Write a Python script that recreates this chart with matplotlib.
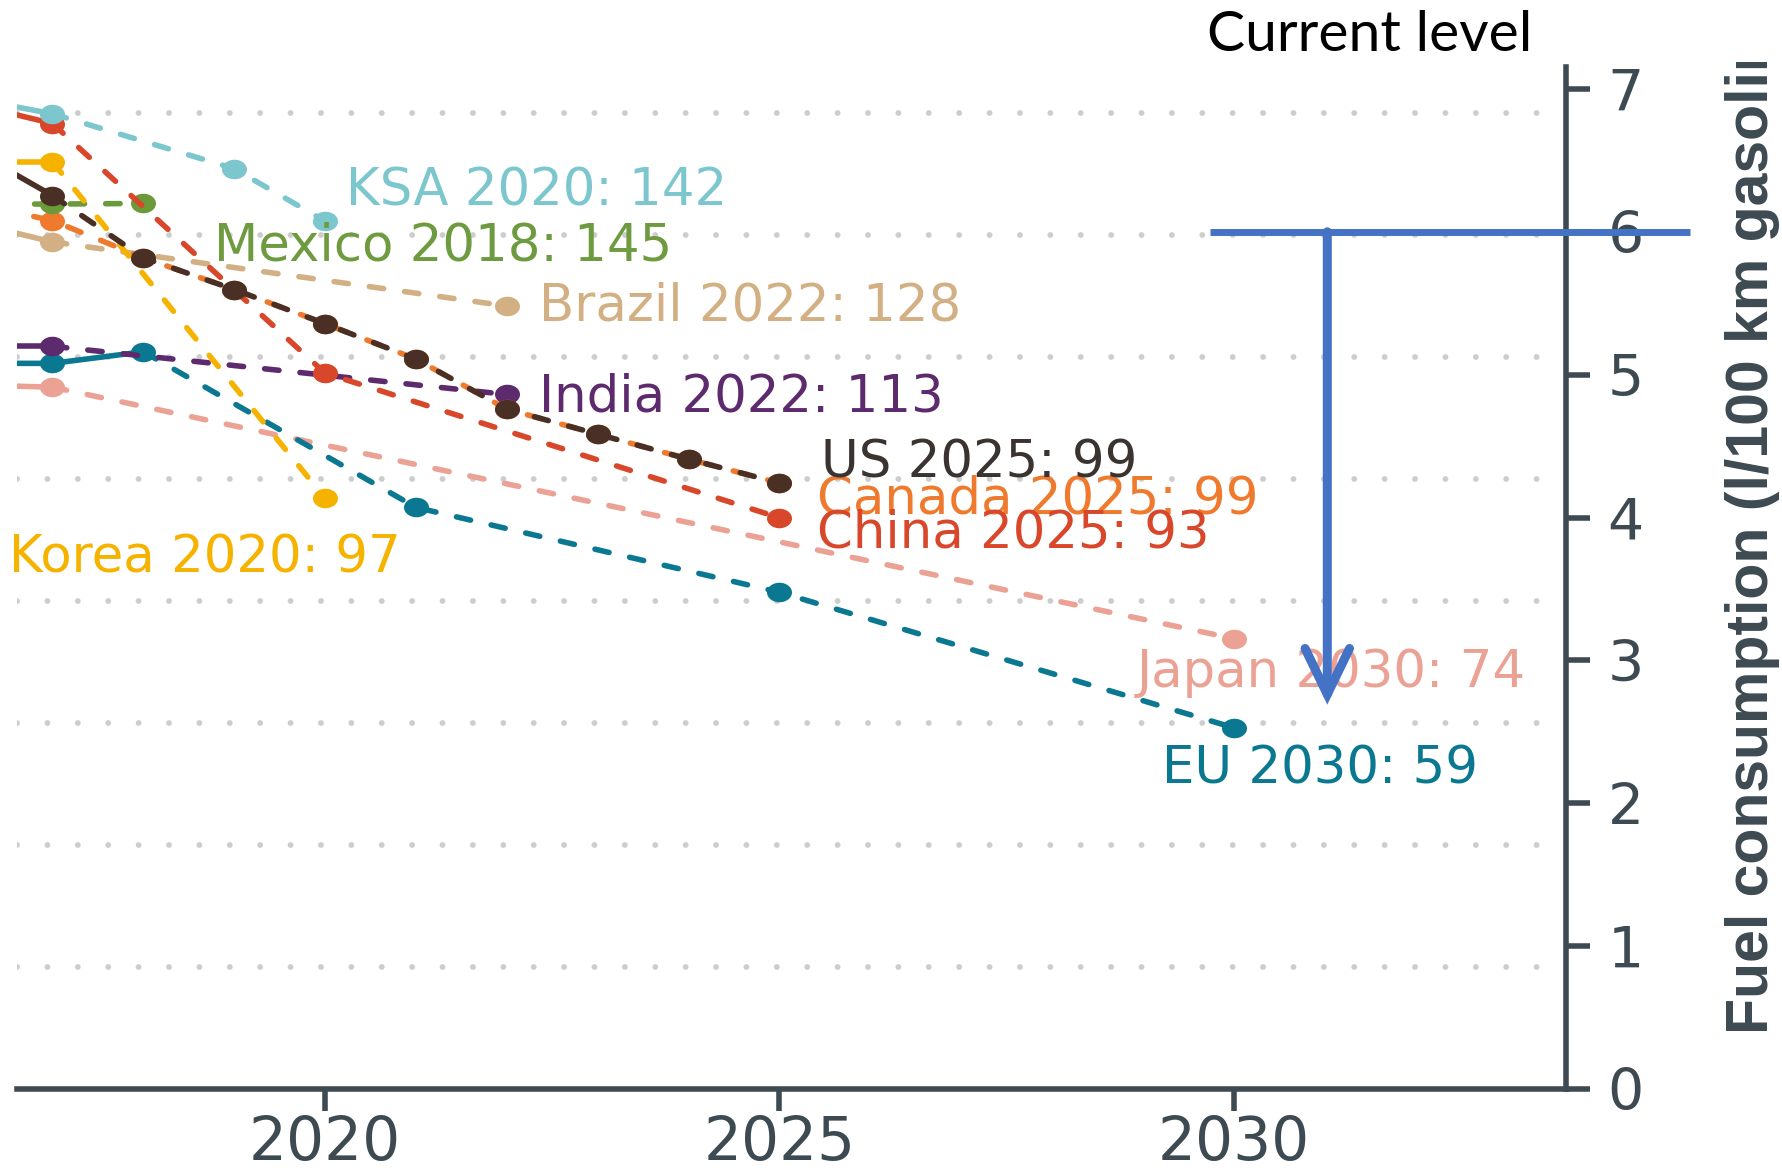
import matplotlib
matplotlib.use("Agg")
import matplotlib.pyplot as plt
from matplotlib.path import Path
from matplotlib.transforms import Affine2D, Bbox, TransformedBbox
from matplotlib import font_manager

# ---------------- data (gCO2/km, NEDC-normalised) ----------------
countries = ["Japan", "EU", "India", "Brazil", "Canada", "Mexico", "Korea", "China", "KSA", "US"]

japan_years = [2016, 2017, 2030]
japan_vals = [115.4, 115.0, 73.8]
eu_years = [2016, 2017, 2018, 2021, 2025, 2030]
eu_vals = [118.9, 118.9, 120.8, 95.3, 81.4, 59.2]
india_years = [2016, 2017, 2022]
india_vals = [121.7, 121.7, 113.8]
brazil_years = [2016, 2017, 2022]
brazil_vals = [142.4, 138.8, 128.3]
canada_years = [2016, 2017, 2018, 2019, 2020, 2021, 2022, 2023, 2024, 2025]
canada_vals = [145.5, 142.3, 136.2, 131.0, 125.4, 119.6, 111.4, 107.3, 103.2, 99.3]
mexico_years = [2016, 2017, 2018]
mexico_vals = [145.0, 145.0, 145.1]
korea_years = [2016, 2017, 2020]
korea_vals = [151.9, 151.9, 96.8]
china_years = [2016, 2017, 2020, 2025]
china_vals = [161.8, 158.2, 117.3, 93.6]
ksa_years = [2016, 2017, 2019, 2020]
ksa_vals = [162.6, 159.8, 150.8, 142.2]
us_years = [2016, 2017, 2018, 2019, 2020, 2021, 2022, 2023, 2024, 2025]
us_vals = [154.9, 146.4, 136.2, 131.0, 125.4, 119.6, 111.4, 107.3, 103.2, 99.3]

# last historical (solid) year per country; None = dashed throughout
hist_end = {"Japan": 2017, "EU": 2018, "India": 2017, "Brazil": 2017, "Canada": None,
            "Mexico": None, "Korea": 2017, "China": 2017, "KSA": 2017, "US": 2017}

label_texts = {
    "KSA": "KSA 2020: 142", "Mexico": "Mexico 2018: 145", "Brazil": "Brazil 2022: 128",
    "India": "India 2022: 113", "US": "US 2025: 99", "Canada": "Canada 2025: 99",
    "China": "China 2025: 93", "Korea": "Korea 2020: 97", "Japan": "Japan 2030: 74",
    "EU": "EU 2030: 59",
}

grid_vals = [20, 40, 60, 80, 100, 120, 140, 160]
x_ticks = [2020, 2025, 2030]
fuel_ticks = [0, 1, 2, 3, 4, 5, 6, 7]
G_PER_L = 23.41          # gCO2/km per l/100 km gasoline
current_level = 6.0      # l/100 km
arrow_target = 2.69      # l/100 km

series = {
    "Japan": (japan_years, japan_vals), "EU": (eu_years, eu_vals),
    "India": (india_years, india_vals), "Brazil": (brazil_years, brazil_vals),
    "Canada": (canada_years, canada_vals), "Mexico": (mexico_years, mexico_vals),
    "Korea": (korea_years, korea_vals), "China": (china_years, china_vals),
    "KSA": (ksa_years, ksa_vals), "US": (us_years, us_vals),
}

# ---------------- styles / layout ----------------
colors = {
    "Japan": "#eba295", "EU": "#0b7892", "India": "#5e2a6e", "Brazil": "#d3b084",
    "Canada": "#ef7a2e", "Mexico": "#6a9a3a", "Korea": "#f5b300", "China": "#d9472b",
    "KSA": "#7cc6ce", "US": "#4a2f24",
}
label_colors = dict(colors)
label_colors["US"] = "#3a3330"
label_colors["Mexico"] = "#6e9b3f"

# (x year, y gCO2 baseline, ha)
label_pos = {
    "KSA": (2020.23, 144.8, "left"), "Mexico": (2018.78, 135.8, "left"),
    "Brazil": (2022.35, 126.0, "left"), "India": (2022.36, 111.0, "left"),
    "US": (2025.46, 100.2, "left"), "Canada": (2025.41, 94.3, "left"),
    "China": (2025.41, 88.7, "left"), "Korea": (2020.83, 84.6, "right"),
    "Japan": (2028.93, 65.8, "left"), "EU": (2029.21, 50.1, "left"),
}

W, H, DPI = 1782, 1172, 100
SLATE = "#3e4a52"
BLUE = "#4472c4"

fig = plt.figure(figsize=(W / DPI, H / DPI), dpi=DPI)
fig.patch.set_facecolor("white")
ax_left, ax_right, ax_bottom, ax_top = 17, 1566, 1089, 67
ax = fig.add_axes([ax_left / W, 1 - ax_bottom / H, (ax_right - ax_left) / W, (ax_bottom - ax_top) / H])
xmin, xmax = 2016.61, 2033.657
ymax = (ax_bottom - ax_top) / 6.103
ax.set_xlim(xmin, xmax)
ax.set_ylim(0, ymax)

# dotted gridlines
for gv in grid_vals:
    ax.plot([xmin, 2033.45], [gv, gv], color="#cdcdcd", lw=4.2,
            linestyle=(0, (0.01, 5.2)), dash_capstyle="round", zorder=1)

ell = Path.unit_circle().transformed(Affine2D().scale(1.28, 1.0))
dash = (0, (2.6, 3.8))
LW = 4.0

for i, c in enumerate(countries):
    yrs, vals = series[c]
    col = colors[c]
    z = 3 + i * 0.1
    he = hist_end[c]
    if he is not None:
        k = yrs.index(he)
        ax.plot(yrs[:k + 1], vals[:k + 1], color=col, lw=LW, solid_capstyle="round", zorder=z)
        ax.plot(yrs[k:], vals[k:], color=col, lw=LW, linestyle=dash, dash_capstyle="round", zorder=z)
    else:
        ax.plot(yrs, vals, color=col, lw=LW, linestyle=dash, dash_capstyle="round", zorder=z)
    ax.plot(yrs[1:], vals[1:], linestyle="none", marker=ell, markersize=18,
            color=col, markeredgewidth=0, zorder=z + 0.05)

for c in countries:
    x, y, ha = label_pos[c]
    ax.text(x, y, label_texts[c], color=label_colors[c], fontsize=37, ha=ha,
            va="baseline", family="DejaVu Sans", clip_on=False, zorder=10)

# spines / ticks
for s in ["top", "left", "right"]:
    ax.spines[s].set_visible(False)
ax.spines["bottom"].set_color(SLATE)
ax.spines["bottom"].set_linewidth(4)
ax.set_yticks([])
ax.set_xticks(x_ticks)
ax.tick_params(axis="x", length=16, width=4, color=SLATE, labelsize=43,
               labelcolor=SLATE, pad=2, direction="out")

ax2 = ax.twinx()
ax2.set_ylim(0, ymax / G_PER_L)
for s in ["top", "left", "bottom"]:
    ax2.spines[s].set_visible(False)
ax2.spines["right"].set_color(SLATE)
ax2.spines["right"].set_linewidth(4)
ax2.set_yticks(fuel_ticks)
ax2.tick_params(axis="y", length=17, width=4, color=SLATE, labelsize=41,
                labelcolor=SLATE, pad=13, direction="out")

# "current level" annotation
ax2.plot([2029.74, 2035.02], [current_level, current_level], color=BLUE, lw=5,
         solid_capstyle="butt", clip_on=False, zorder=20)
ax2.annotate("", xy=(2031.03, arrow_target), xytext=(2031.03, current_level),
             arrowprops=dict(arrowstyle="->,head_length=33,head_width=16", color=BLUE,
                             lw=6.5, shrinkA=0, shrinkB=0, mutation_scale=1,
                             joinstyle="miter", capstyle="round"),
             annotation_clip=False, zorder=20)

fig.text(1207 / W, 1 - 51 / H, "Current level", family=["Lato", "DejaVu Sans"],
         fontsize=41, color="black", ha="left", va="baseline")

# rotated right-hand axis label, cropped at the top like the original
names = {f.name for f in font_manager.fontManager.ttflist}
if "Liberation Sans Narrow" in names:
    yl_family, yl_size = ["Liberation Sans Narrow", "DejaVu Sans"], 51
else:
    yl_family, yl_size = ["Liberation Sans", "DejaVu Sans"], 42.5
yl = fig.text(1768 / W, 1 - 1034 / H, "Fuel consumption (l/100 km gasoline equivalent)",
              rotation=90, rotation_mode="anchor", ha="left", va="baseline",
              family=yl_family, fontsize=yl_size, fontweight="bold", color=SLATE)
yl.set_clip_box(TransformedBbox(Bbox([[0, 0], [1, 1 - 62 / H]]), fig.transFigure))
yl.set_clip_on(True)

fig.savefig("out.png", dpi=DPI, facecolor="white")
